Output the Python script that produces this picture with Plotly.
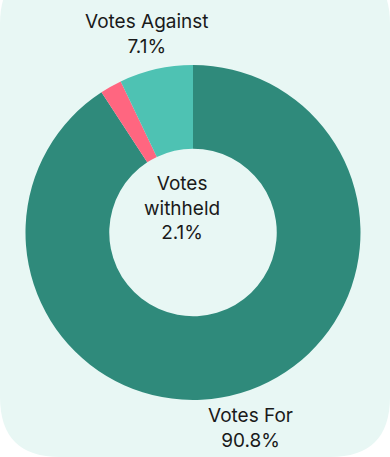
import plotly.graph_objects as go

labels = ["Votes For", "Votes withheld", "Votes Against"]
values = [90.8, 2.1, 7.1]
colors = ["#2F8A7B", "#FF6680", "#4EC2B3"]

W, H = 390, 457

def px(x):
    return x / W

def py(y):
    return 1 - y / H

fig = go.Figure()
fig.add_trace(go.Pie(
    labels=labels,
    values=values,
    hole=0.5,
    sort=False,
    direction="clockwise",
    rotation=0,
    marker=dict(colors=colors, line=dict(width=0)),
    textinfo="none",
    hoverinfo="label+percent",
    showlegend=False,
    domain=dict(x=[px(25.5), px(360.5)], y=[py(400), py(65)]),
))

# background rounded panel
x0, x1, y0, y1, r = 0, 390, -36, 457, 60
path = (
    f"M {px(x0+r)},{py(y0)} L {px(x1-r)},{py(y0)} "
    f"Q {px(x1)},{py(y0)} {px(x1)},{py(y0+r)} "
    f"L {px(x1)},{py(y1-r)} Q {px(x1)},{py(y1)} {px(x1-r)},{py(y1)} "
    f"L {px(x0+r)},{py(y1)} Q {px(x0)},{py(y1)} {px(x0)},{py(y1-r)} "
    f"L {px(x0)},{py(y0+r)} Q {px(x0)},{py(y0)} {px(x0+r)},{py(y0)} Z"
)
fig.add_shape(type="path", path=path, xref="paper", yref="paper",
              fillcolor="#E8F7F4", line=dict(width=0), layer="below")

font = dict(family="Inter, Open Sans, sans-serif", size=19, color="#1a1a1a")
label_pos = {
    "Votes For": (250, 428, "Votes For"),
    "Votes withheld": (182, 208, "Votes<br>withheld"),
    "Votes Against": (147, 34, "Votes Against"),
}
for lab, val in zip(labels, values):
    x, y, txt = label_pos[lab]
    fig.add_annotation(
        x=px(x), y=py(y), xref="paper", yref="paper",
        text=f"{txt}<br>{val}%", showarrow=False, font=font,
        align="center", xanchor="center", yanchor="middle",
    )

fig.update_layout(
    width=W, height=H,
    margin=dict(l=0, r=0, t=0, b=0),
    paper_bgcolor="white",
    plot_bgcolor="white",
)

fig.write_html("out.html")
